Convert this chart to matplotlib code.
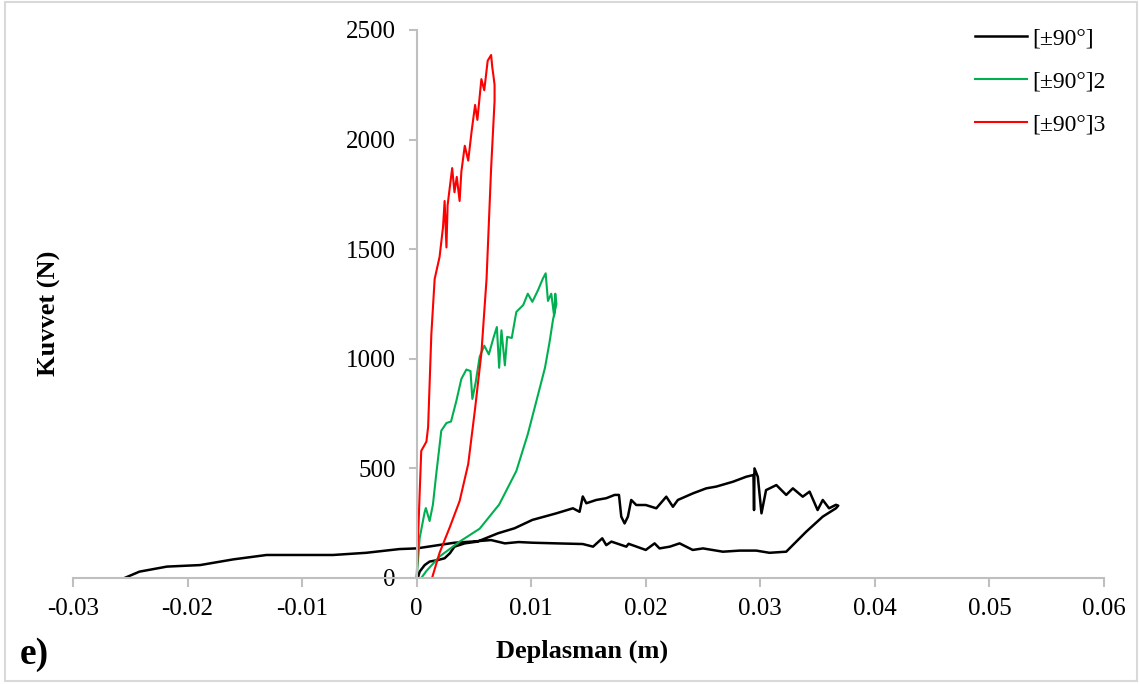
import matplotlib
matplotlib.use("Agg")
import matplotlib.pyplot as plt
from matplotlib.patches import Rectangle

plt.rcParams['font.family'] = ['Liberation Serif', 'DejaVu Serif']

# Force-displacement records
x_ticks = [-0.03, -0.02, -0.01, 0, 0.01, 0.02, 0.03, 0.04, 0.05, 0.06]
x_tick_labels = ["-0.03", "-0.02", "-0.01", "0", "0.01", "0.02", "0.03", "0.04", "0.05", "0.06"]
y_ticks = [0, 500, 1000, 1500, 2000, 2500]

series_labels = ["[±90°]", "[±90°]2", "[±90°]3"]

black_x = [-0.0255, -0.0242, -0.0218, -0.0189, -0.016, -0.0131, -0.0102, -0.0073, -0.0044, -0.0015,
           0, 0.0019, 0.0033, 0.0048, 0.0065, 0.0077, 0.0089, 0.0101, 0.0122, 0.0145,
           0.0154, 0.0162, 0.01655, 0.017, 0.0183, 0.0185, 0.02, 0.02077, 0.0212, 0.0221,
           0.02295, 0.0241, 0.025, 0.02673, 0.0282, 0.02964, 0.0308, 0.03226, 0.034, 0.03545,
           0.0366, 0.0368, 0.0366, 0.036, 0.03545, 0.035, 0.0343, 0.0337, 0.03284, 0.03226,
           0.0314, 0.0305, 0.0301, 0.02978, 0.02949, 0.02945, 0.0294, 0.02877, 0.0276, 0.02615,
           0.02528, 0.02411, 0.0228, 0.02237, 0.02179, 0.02092, 0.02, 0.01917, 0.01873, 0.01844,
           0.01815, 0.01786, 0.01766, 0.01728, 0.01655, 0.01568, 0.01481, 0.0145, 0.01422, 0.01364,
           0.01219, 0.0101, 0.00855, 0.0071, 0.0053, 0.0042, 0.0033, 0.0029, 0.00244, 0.00186,
           0.00113, 0.0007, 0.00026, 0.0001]
black_y = [0, 29, 52, 59, 85, 105, 105, 105, 115, 132,
           135, 150, 161, 166, 173, 158, 164, 161, 158, 155,
           143, 181, 150, 166, 143, 156, 128, 158, 135, 143,
           158, 128, 135, 120, 125, 125, 115, 120, 211, 280,
           318, 330, 334, 318, 356, 310, 394, 371, 409, 379,
           424, 401, 295, 462, 500, 310, 470, 462, 439, 417,
           409, 386, 356, 325, 371, 318, 333, 333, 356, 280,
           249, 280, 379, 379, 364, 356, 341, 372, 302, 318,
           295, 265, 227, 204, 166, 158, 143, 113, 90, 82,
           75, 59, 29, 0]

green_x = [0, 0.00026, 0.0007, 0.0008, 0.00113, 0.00142, 0.0017, 0.00215, 0.0026, 0.003,
           0.00346, 0.0039, 0.00434, 0.0047, 0.00486, 0.00515, 0.0055, 0.0059, 0.0063, 0.0067,
           0.007, 0.0072, 0.0074, 0.0077, 0.0079, 0.0083, 0.0087, 0.0093, 0.0097, 0.0101,
           0.0106, 0.011, 0.01126, 0.01146, 0.01175, 0.012, 0.0121, 0.0122, 0.0119, 0.0116,
           0.0112, 0.01045, 0.0097, 0.0087, 0.0072, 0.0055, 0.00375, 0.002, 0.00085, 0.0004]
green_y = [0, 182, 301, 319, 260, 335, 470, 672, 707, 714,
           807, 908, 951, 944, 817, 892, 1010, 1060, 1020, 1095,
           1145, 959, 1130, 970, 1100, 1095, 1214, 1245, 1297, 1260,
           1314, 1364, 1390, 1264, 1297, 1195, 1297, 1250, 1178, 1076,
           959, 807, 656, 488, 335, 225, 166, 98, 32, 0]

red_x = [0, 0.0002, 0.0004, 0.00085, 0.001, 0.00128, 0.00157, 0.002, 0.0023, 0.00244,
         0.0026, 0.0027, 0.0029, 0.0031, 0.0033, 0.0035, 0.00375, 0.0039, 0.0042, 0.0045,
         0.0048, 0.0051, 0.0053, 0.00565, 0.0059, 0.0062, 0.0065, 0.0066, 0.0067, 0.0068,
         0.0068, 0.0065, 0.0061, 0.00565, 0.0051, 0.0045, 0.00375, 0.0029, 0.002, 0.00134]
red_y = [0, 300, 580, 622, 689, 1111, 1364, 1465, 1601, 1720,
         1508, 1700, 1786, 1870, 1760, 1830, 1720, 1853, 1972, 1904,
         2039, 2158, 2090, 2276, 2225, 2360, 2386, 2330, 2292, 2250,
         2176, 1870, 1364, 1026, 773, 520, 351, 233, 115, 0]

W, H = 1140, 684
fig = plt.figure(figsize=(W / 100, H / 100), dpi=100)
ax = fig.add_axes([73 / W, 1 - 578 / H, (1104 - 73) / W, (578 - 30) / H])

ax.plot(black_x, black_y, color="black", lw=1.8, label=series_labels[0])
ax.plot(green_x, green_y, color="#00B050", lw=1.5, label=series_labels[1])
ax.plot(red_x, red_y, color="#FF0000", lw=1.5, label=series_labels[2])

ax.set_xlim(-0.03, 0.06)
ax.set_ylim(0, 2500)

axis_grey = "#BFBFBF"
for side in ("top", "right"):
    ax.spines[side].set_visible(False)
ax.spines["left"].set_position(("data", 0))
for side in ("left", "bottom"):
    ax.spines[side].set_color(axis_grey)
    ax.spines[side].set_linewidth(1.5)

ax.set_xticks(x_ticks)
ax.set_xticklabels(x_tick_labels)
ax.set_yticks(y_ticks)
ax.tick_params(axis="x", direction="out", length=6.5, width=1.5, color=axis_grey,
               labelsize=18, pad=8)
ax.tick_params(axis="y", direction="out", length=6, width=1.5, color=axis_grey,
               labelsize=18, pad=9)

fig.text(49 / W, 1 - 313 / H, "Kuvvet (N)", rotation=90, ha="center", va="center",
         fontsize=19, fontweight="bold")
fig.text(582 / W, 1 - 651 / H, "Deplasman (m)", ha="center", va="center",
         fontsize=19, fontweight="bold")
fig.text(20 / W, 1 - 664 / H, "e)", ha="left", va="baseline",
         fontsize=27, fontweight="bold")

fig.legend(loc="upper left", bbox_to_anchor=(975 / W, 1 - 28 / H), frameon=False,
           fontsize=17, handlelength=2.2, handletextpad=0.21, labelspacing=0.9,
           borderpad=0, borderaxespad=0)

fig.patches.append(Rectangle((5 / W, 3 / H), (1137 - 5) / W, (682 - 3) / H,
                             transform=fig.transFigure, fill=False,
                             edgecolor="#D9D9D9", lw=1.5))

fig.savefig("out.png", dpi=100)
